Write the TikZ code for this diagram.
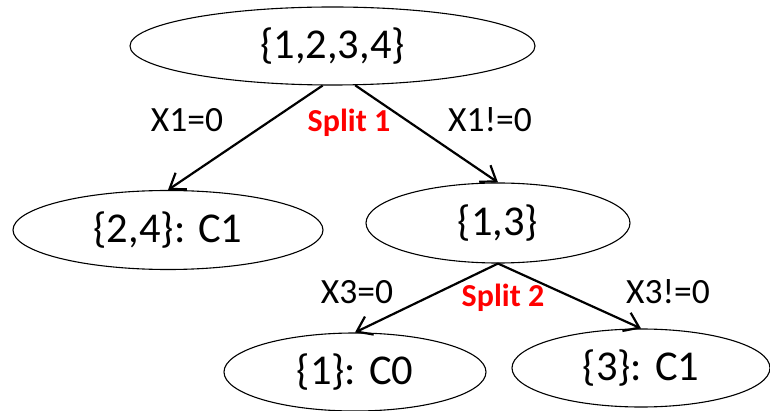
\documentclass[tikz,border=0pt]{standalone}
\usepackage{fontspec}
\setmainfont{Carlito}
\usetikzlibrary{shapes.geometric,arrows.meta}
\begin{document}
\begin{tikzpicture}[x=1pt,y=-1pt,
  setnode/.style={draw=black, line width=1.1pt, ellipse, inner sep=0pt,
    font=\fontsize{42.5}{50}\selectfont},
  edge/.style={draw=black, line width=2.2pt, -{Straight Barb[length=14pt,width=20pt,line width=2.2pt]}},
  cond/.style={font=\fontsize{35.5}{42}\selectfont, inner sep=0pt},
  splitlbl/.style={font=\bfseries\fontsize{32}{38}\selectfont, text=red, inner sep=0pt}]
\useasboundingbox (0,0) rectangle (770,411);
\node[setnode, minimum width=405pt, minimum height=78pt] (root) at (332.5,46) {\{1,2,3,4\}};
\node[setnode, minimum width=310pt, minimum height=79pt] (l) at (168,230) {\{2,4\}: C1};
\node[setnode, minimum width=264pt, minimum height=80pt] (m) at (498,223) {\{1,3\}};
\node[setnode, minimum width=262pt, minimum height=78pt] (ll) at (355,372) {\{1\}: C0};
\node[setnode, minimum width=258pt, minimum height=78pt] (rr) at (641,368) {\{3\}: C1};
\draw[edge] (root.256) -- (l.north);
\draw[edge] (root.300) -- (m.north);
\draw[edge] (m.south) -- (ll.north);
\draw[edge] (m.south) -- (rr.north);
\node[cond] (c1) at (187,120) {X1=0};
\node[cond] (c2) at (490,120) {X1!=0};
\node[cond] (c3) at (357,292) {X3=0};
\node[cond] (c4) at (668,292) {X3!=0};
\node[splitlbl] (s1) at (349,123) {Split 1};
\node[splitlbl] (s2) at (503,298) {Split 2};
\end{tikzpicture}
\end{document}
